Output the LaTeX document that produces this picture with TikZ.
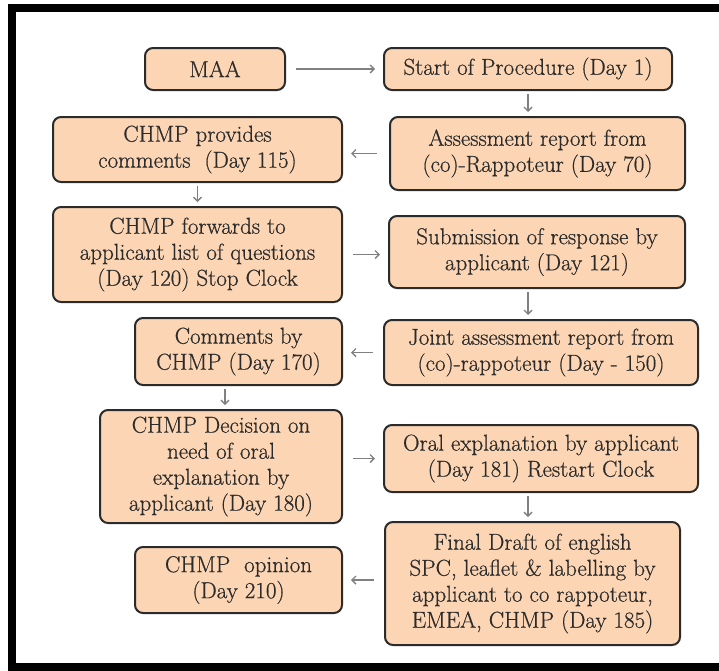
\documentclass[tikz,border=0pt]{standalone}
\usepackage{fontspec}
\setmainfont{Latin Modern Roman}[FakeBold=0.6]
\usetikzlibrary{arrows.meta, positioning, calc}
\definecolor{peach}{HTML}{FCD5B4}
\definecolor{ink}{HTML}{2B2B2B}

\begin{document}
\begin{tikzpicture}[x=1pt, y=-1pt,
  box/.style={draw=ink, line width=2pt, rounded corners=8pt, fill=peach, inner sep=0pt,
    align=center, text=ink, font=\fontsize{23}{26}\selectfont},
  arr/.style={draw=gray, line width=1.4pt, -{Straight Barb[length=4pt,width=8pt]}},
  hz/.style={arr, shorten <=10pt, shorten >=8pt},
  vt/.style={arr, shorten <=3pt, shorten >=4pt}
]
\useasboundingbox (0,0) rectangle (719,670);
\draw[line width=8pt] (719,8) -- (11.5,8) -- (11.5,666.5) -- (719,666.5);

\node[box, minimum width=140pt, minimum height=42pt] (maa) at (215,69) {MAA};
\node[box, minimum width=288pt, minimum height=42pt] (start) at (528,69) {Start of Procedure (Day 1)};
\node[box, minimum width=295pt, minimum height=73pt] (assess) at (537.5,153.5) {Assessment report from\\(co)-Rappoteur (Day 70)};
\node[box, minimum width=289pt, minimum height=65pt] (provides) at (197.5,149.5) {CHMP provides\\comments~~(Day 115)};
\node[box, minimum width=289pt, minimum height=95pt] (forwards) at (197.5,254.5) {CHMP forwards to\\applicant list of questions\\(Day 120) Stop Clock};
\node[box, minimum width=296pt, minimum height=72pt] (submit) at (537,252) {Submission of response by\\applicant (Day 121)};
\node[box, minimum width=207pt, minimum height=67pt] (comments) at (238.5,351.5) {Comments by\\CHMP (Day 170)};
\node[box, minimum width=314pt, minimum height=65pt] (joint) at (541,352.5) {Joint assessment report from\\(co)-rappoteur (Day - 150)};
\node[box, minimum width=242pt, minimum height=113pt] (decision) at (221,466.5) {CHMP Decision on\\need of oral\\explanation by\\applicant (Day 180)};
\node[box, minimum width=314pt, minimum height=67pt] (oral) at (541,458.5) {Oral explanation by applicant\\(Day 181) Restart Clock};
\node[box, minimum width=295pt, minimum height=123pt] (final) at (532.5,583.5) {Final Draft of english\\SPC, leaflet \& labelling by\\applicant to co rappoteur,\\EMEA, CHMP (Day 185)};
\node[box, minimum width=207pt, minimum height=66pt] (opinion) at (238.5,580) {CHMP~~opinion\\(Day 210)};

\coordinate (rx) at (528,0);
\coordinate (lx) at (225,0);

\draw[hz] (maa.east) -- (start.west);
\draw[vt] (start.south) -- (assess.north -| start.south);
\draw[hz, shorten <=12pt] (assess.west) -- (assess.west -| provides.east);
\draw[vt] (provides.south) -- (forwards.north -| provides.south);
\draw[hz] (forwards.east) -- (forwards.east -| submit.west);
\draw[vt] (submit.south -| rx) -- (joint.north -| rx);
\draw[hz] (joint.west) -- (joint.west -| comments.east);
\draw[vt] (comments.south -| lx) -- (decision.north -| lx);
\draw[hz] (decision.east |- oral) -- (oral.west);
\draw[vt] (oral.south -| rx) -- (final.north -| rx);
\draw[hz] (final.west |- opinion) -- (opinion.east);
\end{tikzpicture}
\end{document}
